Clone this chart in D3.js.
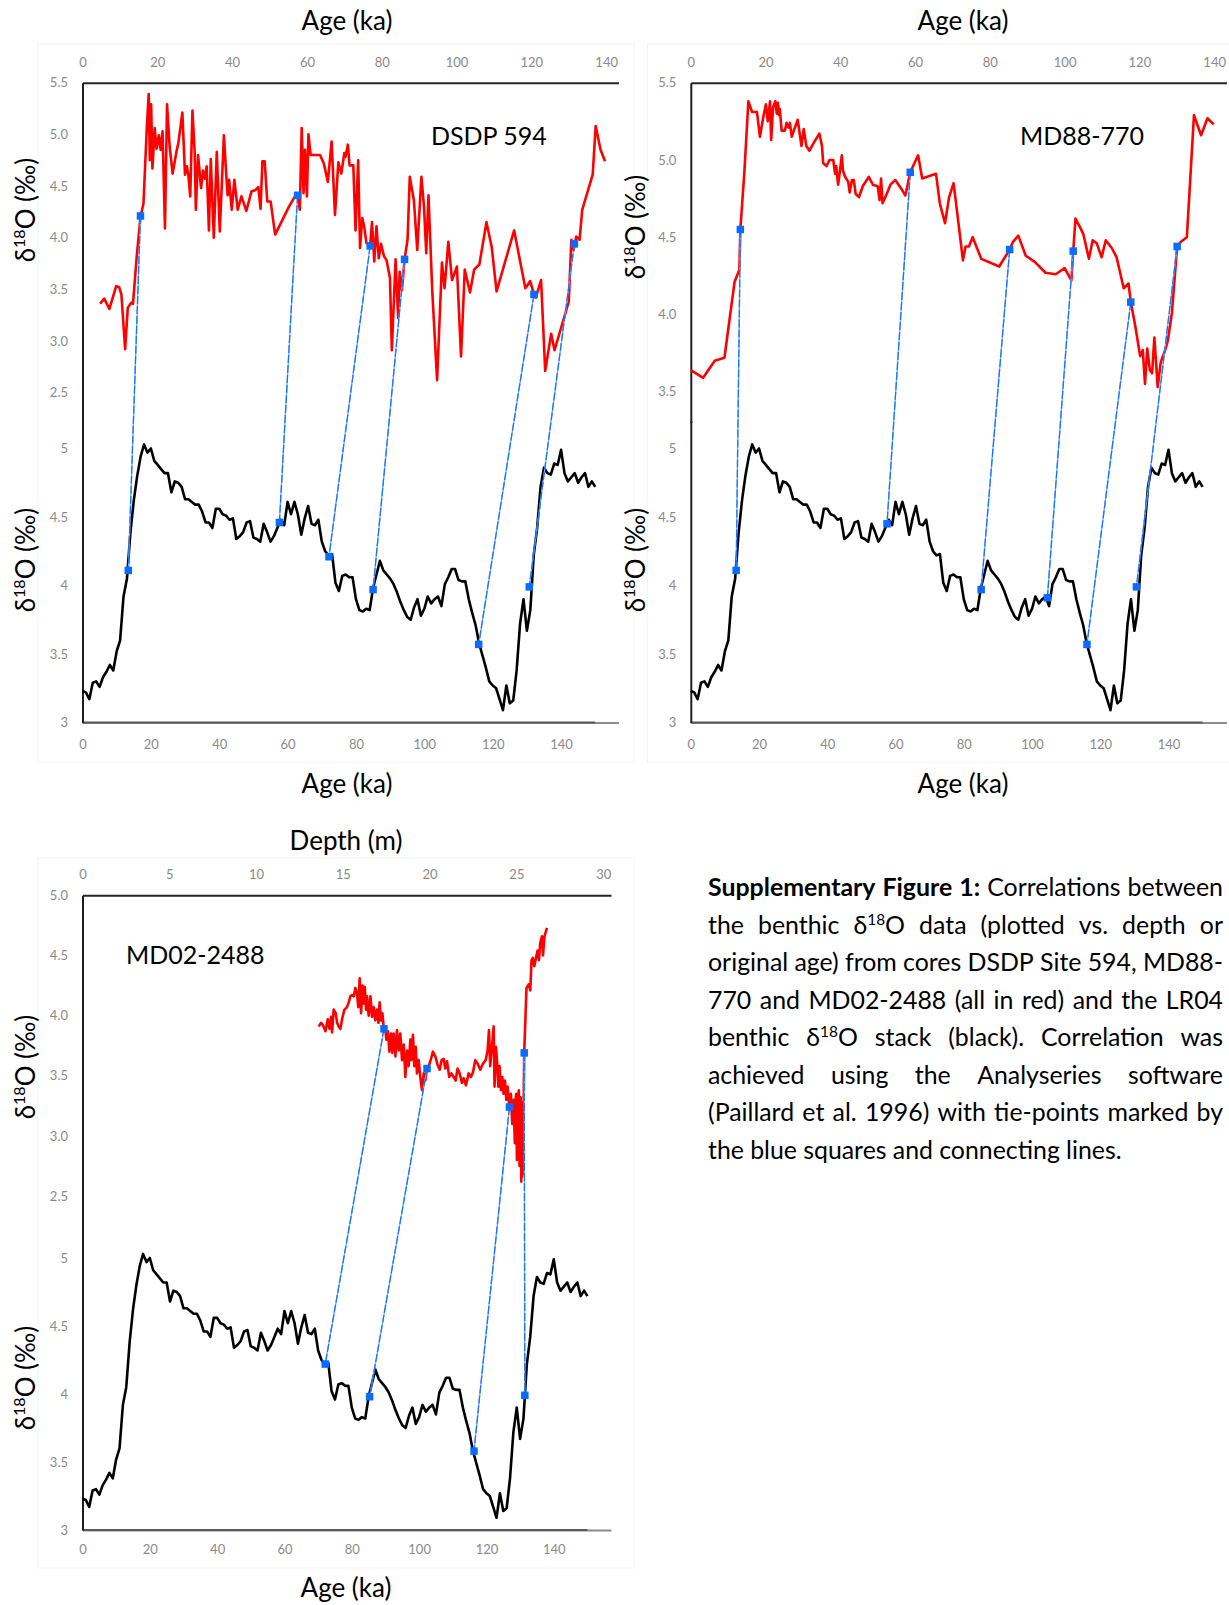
<!DOCTYPE html>
<html><head><meta charset="utf-8">
<script src="https://cdn.jsdelivr.net/npm/d3@7"></script>
<style>
body{margin:0;background:#fff}
svg{display:block}
text{font-family:Lato,"Open Sans",sans-serif}
</style>
</head><body>
<svg id="c" width="1229" height="1605"></svg>
<script>
// ---------------- DATA ----------------
const AGE_TICKS = [0,20,40,60,80,100,120,140];
const DEPTH_TICKS = [0,5,10,15,20,25,30];
const Y_TICKS_DSDP = [2.5,3.0,3.5,4.0,4.5,5.0,5.5];
const Y_TICKS_MD88 = [3.5,4.0,4.5,5.0,5.5];
const Y_TICKS_MD02 = [2.5,3.0,3.5,4.0,4.5,5.0];
const Y_TICKS_LR04 = [3,3.5,4,4.5,5];
const CORE_NAMES = ["DSDP 594","MD88-770","MD02-2488"];

// LR04 benthic stack [age ka, d18O]
const LR04 = [[0,3.23],[1,3.22],[2,3.17],[3,3.29],[4,3.30],[5,3.26],[6,3.33],[7,3.37],[8,3.42],[9,3.38],
[10,3.52],[11,3.60],[12,3.92],[13,4.05],[14,4.38],[15,4.62],[16,4.80],[17,4.94],[18,5.03],[19,4.97],
[20,5.00],[21,4.91],[22,4.88],[23,4.85],[24,4.82],[25,4.82],[26,4.68],[27,4.76],[28,4.75],[29,4.72],
[30,4.63],[31,4.63],[32,4.61],[33,4.59],[34,4.59],[35,4.54],[36,4.46],[37,4.46],[38,4.42],[39,4.56],
[40,4.56],[41,4.52],[42,4.51],[43,4.48],[44,4.49],[45,4.34],[46,4.36],[47,4.39],[48,4.46],[49,4.47],
[50,4.35],[51,4.34],[52,4.32],[53,4.45],[54,4.39],[55,4.32],[56,4.36],[57,4.42],[58,4.48],[59,4.44],
[60,4.61],[61,4.52],[62,4.61],[63,4.52],[64,4.37],[65,4.49],[66,4.58],[67,4.45],[68,4.44],[69,4.48],
[70,4.32],[71,4.25],[72,4.22],[73,4.23],[74,4.02],[75,3.96],[76,4.07],[77,4.08],[78,4.06],[79,4.06],
[80,3.90],[81,3.82],[82,3.81],[83,3.83],[84,3.82],[85,3.98],[86,4.08],[87,4.18],[88,4.11],[89,4.08],
[90,4.05],[91,4.01],[92,3.95],[93,3.88],[94,3.82],[95,3.77],[96,3.75],[97,3.84],[98,3.90],[99,3.78],
[100,3.83],[101,3.92],[102,3.87],[103,3.90],[104,3.92],[105,3.85],[106,4.01],[107,4.06],[108,4.12],[109,4.12],
[110,4.04],[111,4.03],[112,4.03],[113,3.90],[114,3.80],[115,3.71],[116,3.58],[117,3.49],[118,3.40],[119,3.30],
[120,3.27],[121,3.25],[122,3.17],[123,3.09],[124,3.27],[125,3.14],[126,3.16],[127,3.38],[128,3.72],[129,3.90],
[130,3.67],[131,3.82],[132,4.22],[133,4.42],[134,4.72],[135,4.86],[136,4.82],[137,4.81],[138,4.89],[139,4.88],
[140,4.99],[141,4.82],[142,4.76],[143,4.79],[144,4.82],[145,4.75],[146,4.79],[147,4.82],[148,4.72],[149,4.76],[150,4.72]];

// DSDP 594 [original age ka, d18O]
const DSDP594 = [[4.7,3.36],[5.8,3.41],[7.2,3.31],[9.0,3.53],[9.8,3.52],[10.4,3.45],[11.4,2.92],[12.1,3.32],[13.0,3.37],[13.5,3.36],
[14.5,3.82],[15.5,4.20],[16.3,4.33],[17.2,5.07],[17.7,5.39],[18.0,4.75],[18.35,5.29],[18.7,4.67],[19.3,5.06],[19.8,4.86],
[20.4,4.99],[20.9,4.85],[21.4,5.03],[22.05,4.09],[22.6,5.29],[23.3,4.88],[24.1,4.62],[25.1,4.83],[25.6,4.91],[26.7,5.21],
[27.4,4.61],[27.9,4.69],[28.3,4.61],[28.8,4.40],[29.4,5.23],[30.0,4.82],[30.3,4.27],[30.9,4.80],[31.7,4.48],[32.2,4.65],
[32.7,4.57],[33.2,4.69],[33.8,4.07],[34.3,4.76],[35.1,4.00],[35.9,4.83],[36.7,4.06],[37.3,4.56],[37.8,4.99],[38.3,4.69],
[38.8,4.41],[39.2,4.56],[39.9,4.27],[40.6,4.56],[41.5,4.27],[42.5,4.40],[43.8,4.26],[45.2,4.45],[46.2,4.46],[47.0,4.49],
[47.6,4.28],[48.1,4.74],[48.7,4.74],[49.4,4.35],[50.3,4.35],[51.5,4.03],[55.2,4.30],[56.8,4.40],[57.5,4.41],[58.1,4.27],
[58.6,5.06],[59.1,4.43],[59.5,4.85],[60.0,4.40],[60.4,5.00],[61.0,4.80],[62.1,4.80],[63.5,4.80],[64.5,4.72],[65.6,4.54],
[66.6,4.93],[67.5,4.22],[68.4,4.73],[69.2,4.62],[70.0,4.82],[70.3,4.78],[70.95,4.90],[71.4,4.70],[72.4,4.70],[73.0,4.07],
[73.7,4.75],[74.2,3.90],[74.8,4.19],[75.3,4.11],[75.9,3.95],[76.9,3.92],[77.4,4.15],[78.0,3.77],[78.6,4.11],[79.2,3.80],
[79.8,3.94],[80.6,3.82],[81.3,3.78],[82.2,3.61],[82.7,2.91],[83.3,3.43],[83.7,3.79],[84.4,3.22],[84.8,3.67],[85.4,3.49],
[86.1,3.79],[86.9,3.98],[87.5,4.59],[88.6,4.36],[89.5,3.88],[90.6,4.59],[91.3,4.30],[91.9,3.85],[92.5,4.41],[93.5,3.49],
[94.8,2.62],[96.1,3.76],[96.8,3.51],[97.8,3.96],[98.8,3.59],[100.1,3.72],[101.2,2.85],[102.2,3.69],[103.6,3.47],[104.7,3.69],
[106.1,3.74],[108.0,4.15],[109.4,3.91],[110.7,3.48],[115.4,4.07],[118.4,3.51],[119.7,3.58],[120.7,3.45],[121.2,3.42],[122.6,3.59],
[123.7,2.71],[125.3,3.07],[126.2,2.91],[130.0,3.38],[130.7,3.98],[131.3,3.88],[132.0,4.01],[132.9,3.98],[133.6,4.27],[136.4,4.61],
[137.2,5.08],[138.5,4.85],[139.7,4.74]];

// MD88-770 [original age ka, d18O]
const MD88_770 = [[0.0,3.64],[3.3,3.59],[6.4,3.70],[9.0,3.72],[11.7,4.21],[13.0,4.29],[13.25,4.55],[14.3,4.91],[15.4,5.38],[16.4,5.31],
[17.7,5.31],[18.5,5.15],[19.4,5.28],[20.1,5.36],[20.6,5.25],[21.2,5.38],[21.5,5.13],[22.0,5.34],[22.6,5.38],[23.0,5.30],
[23.3,5.37],[23.6,5.29],[23.8,5.33],[24.3,5.19],[25.2,5.19],[25.6,5.24],[26.1,5.21],[26.5,5.24],[27.0,5.15],[27.7,5.20],
[28.6,5.26],[29.6,5.09],[30.2,5.20],[30.9,5.09],[31.75,5.06],[33.1,5.12],[34.4,5.17],[35.1,5.09],[35.4,4.98],[36.3,4.96],
[37.1,5.00],[38.1,5.00],[38.6,4.91],[38.9,4.96],[39.4,4.84],[39.9,4.93],[40.4,5.03],[40.7,4.93],[41.3,4.89],[42.1,4.86],
[42.5,4.79],[43.1,4.87],[43.6,4.87],[44.1,4.78],[45.0,4.76],[46.0,4.83],[47.6,4.89],[48.7,4.84],[50.0,4.83],[50.5,4.74],
[50.9,4.88],[51.3,4.72],[52.4,4.78],[53.4,4.84],[54.7,4.87],[56.4,4.81],[57.4,4.77],[58.7,4.92],[60.8,5.03],[61.9,4.88],
[65.6,4.91],[66.6,4.72],[68.0,4.59],[69.1,4.76],[70.3,4.85],[72.8,4.35],[73.5,4.44],[74.4,4.44],[75.4,4.50],[77.7,4.36],
[82.5,4.31],[85.3,4.42],[86.2,4.47],[87.6,4.51],[89.6,4.38],[92.0,4.34],[94.9,4.27],[97.6,4.26],[100.0,4.30],[101.8,4.22],
[102.3,4.41],[102.9,4.62],[104.2,4.56],[105.0,4.52],[106.5,4.36],[107.5,4.48],[108.6,4.46],[109.9,4.37],[111.0,4.48],[112.6,4.43],
[113.9,4.37],[115.8,4.17],[117.1,4.20],[117.7,4.08],[119.0,3.91],[120.2,3.73],[120.9,3.77],[121.5,3.55],[122.1,3.78],[122.8,3.64],
[123.4,3.62],[124.0,3.85],[124.9,3.53],[125.7,3.69],[126.9,3.77],[127.6,3.83],[128.7,4.01],[130.1,4.44],[131.1,4.47],[132.7,4.50],
[134.6,5.29],[136.5,5.16],[138.2,5.27],[139.9,5.23]];

// MD02-2488 [depth m, d18O]
const MD02_2488 = [[13.61,3.91],[13.75,3.94],[13.86,3.92],[14.0,3.87],[14.13,3.97],[14.23,3.89],[14.32,3.99],[14.38,3.86],[14.47,4.05],[14.59,4.02],
[14.67,3.94],[14.76,3.91],[14.86,3.89],[14.97,3.98],[15.09,4.05],[15.24,4.07],[15.36,4.12],[15.43,4.16],[15.53,4.17],[15.63,4.16],
[15.72,4.23],[15.82,4.18],[15.89,4.07],[15.97,4.31],[16.05,4.02],[16.13,4.25],[16.2,4.10],[16.26,4.24],[16.34,4.05],[16.39,4.16],
[16.49,4.00],[16.59,4.16],[16.68,3.99],[16.78,4.07],[16.87,3.96],[16.97,4.05],[17.05,3.94],[17.12,4.11],[17.2,3.96],[17.28,4.02],
[17.35,3.91],[17.45,3.88],[17.51,3.80],[17.6,3.87],[17.68,3.70],[17.78,3.85],[17.85,3.69],[17.93,3.85],[18.03,3.66],[18.12,3.88],
[18.22,3.71],[18.31,3.85],[18.41,3.63],[18.51,3.76],[18.6,3.49],[18.7,3.71],[18.79,3.58],[18.89,3.80],[18.95,3.63],[19.04,3.84],
[19.12,3.58],[19.2,3.74],[19.27,3.52],[19.37,3.63],[19.46,3.49],[19.56,3.38],[19.66,3.52],[19.75,3.46],[19.85,3.56],[19.95,3.58],
[20.08,3.64],[20.19,3.70],[20.33,3.66],[20.46,3.59],[20.58,3.55],[20.69,3.63],[20.81,3.64],[20.9,3.56],[21.0,3.62],[21.13,3.49],
[21.25,3.52],[21.38,3.49],[21.5,3.46],[21.61,3.56],[21.73,3.52],[21.86,3.44],[21.96,3.48],[22.09,3.42],[22.25,3.52],[22.38,3.49],
[22.5,3.53],[22.63,3.63],[22.77,3.60],[22.92,3.55],[23.07,3.60],[23.23,3.63],[23.34,3.71],[23.42,3.88],[23.49,3.58],[23.59,3.74],
[23.69,3.91],[23.74,3.41],[23.82,3.74],[23.88,3.63],[23.96,3.41],[24.03,3.58],[24.11,3.38],[24.19,3.49],[24.26,3.35],[24.34,3.46],
[24.42,3.30],[24.49,3.41],[24.59,3.24],[24.68,3.35],[24.76,3.10],[24.84,3.30],[24.91,2.94],[24.95,3.30],[24.99,3.35],[25.03,2.80],
[25.07,2.86],[25.1,3.33],[25.14,3.38],[25.18,2.75],[25.22,2.88],[25.25,3.32],[25.28,2.62],[25.31,3.10],[25.33,2.66],[25.35,3.28],
[25.37,2.68],[25.45,3.69],[25.58,4.23],[25.72,4.26],[25.8,4.21],[25.87,4.46],[25.95,4.48],[26.03,4.41],[26.14,4.49],[26.22,4.54],
[26.3,4.46],[26.37,4.60],[26.47,4.66],[26.53,4.50],[26.62,4.66],[26.7,4.70],[26.76,4.73]];

// tie points [core x, core d18O, LR04 age, LR04 d18O]
const TIES_DSDP594 = [[15.5,4.21,13.4,4.11],[57.5,4.41,57.6,4.46],[76.9,3.92,72.1,4.21],[86.1,3.79,85.0,3.97],[120.7,3.45,115.9,3.57],[131.5,3.94,130.7,3.99]];
const TIES_MD88_770 = [[13.25,4.55,13.3,4.11],[58.7,4.92,57.5,4.45],[85.3,4.42,85.1,3.97],[102.3,4.41,104.5,3.91],[117.7,4.08,116.1,3.57],[130.1,4.44,130.6,3.99]];
const TIES_MD02_2488 = [[17.37,3.89,72.1,4.22],[19.85,3.56,85.3,3.98],[24.6,3.24,116.3,3.58],[25.45,3.69,131.4,3.99]];

const CAPTION_LINES = [
 "Supplementary Figure 1: Correlations between",
 "the benthic δ18O data (plotted vs. depth or",
 "original age) from cores DSDP Site 594, MD88-",
 "770 and MD02-2488 (all in red) and the LR04",
 "benthic δ18O stack (black). Correlation was",
 "achieved using the Analyseries software",
 "(Paillard et al. 1996) with tie-points marked by",
 "the blue squares and connecting lines."
];

// ---------------- LAYOUT ----------------
const svg = d3.select("#c");
const RED = "#ff0000", BLUE = "#0a6cff", TICKC = "#8a8a8a";

const panels = [
 {name:CORE_NAMES[0], red:DSDP594, ties:TIES_DSDP594, left:82.5, right:618.5,
  box:[38,44,634,762],
  topXLabel:"Age (ka)", topXDomain:[0,143.3], topXTicks:AGE_TICKS, topFmt:d3.format("d"),
  topAxisY:82.7, topYDomain:[2.2,5.5], topYRange:[82.7+3.3*103.3,82.7], topYTicks:Y_TICKS_DSDP,
  botXMax:156.8, botAxisY:722.5, botYRange:[722.5,722.5-2.2*137],
  titleTopY:30, titleBotY:793, titleX:347,
  yTitleX:35, yTitleTop:210, yTitleBot:560,
  nameX:431, nameY:145, nameSize:25,
  topPad:15.5, botPad:17},
 {name:CORE_NAMES[1], red:MD88_770, ties:TIES_MD88_770, left:690.8, right:1226.5,
  box:[647.5,44,1240,762],
  topXLabel:"Age (ka)", topXDomain:[0,143.3], topXTicks:AGE_TICKS, topFmt:d3.format("d"),
  topAxisY:82.7, topYDomain:[3.3,5.5], topYRange:[82.7+2.2*154.5,82.7], topYTicks:Y_TICKS_MD88,
  botXMax:157, botAxisY:722.5, botYRange:[722.5,722.5-2.2*137],
  titleTopY:30, titleBotY:793, titleX:963,
  yTitleX:644.5, yTitleTop:227, yTitleBot:560,
  nameX:1020, nameY:145, nameSize:25,
  topPad:15.5, botPad:17},
 {name:CORE_NAMES[2], red:MD02_2488, ties:TIES_MD02_2488, left:82.5, right:611,
  box:[38,858,634,1568],
  topXLabel:"Depth (m)", topXDomain:[0,30.45], topXTicks:DEPTH_TICKS, topFmt:d3.format("d"),
  topAxisY:895.3, topYDomain:[2.2,5.0], topYRange:[895.3+2.8*120.3,895.3], topYTicks:Y_TICKS_MD02,
  botXMax:157, botAxisY:1530, botYRange:[1530,1530-2.2*136],
  titleTopY:850, titleBotY:1597, titleX:346,
  yTitleX:35, yTitleTop:1067, yTitleBot:1378,
  nameX:126, nameY:964, nameSize:25,
  topPad:16.5, botPad:14.5}
];

function styleAxis(g, lineColor){
  g.select(".domain").attr("stroke", lineColor).attr("stroke-width", 2);
  g.selectAll(".tick line").remove();
  g.selectAll(".tick text").attr("fill", TICKC).attr("font-size", 13).attr("font-family","Lato, sans-serif");
}

function yTitle(x, y){
  const t = svg.append("text").attr("transform", `translate(${x},${y}) rotate(-90)`)
    .attr("text-anchor","middle").attr("font-size",26).attr("fill","#000");
  t.append("tspan").text("δ");
  t.append("tspan").attr("font-size",16).attr("dy",-10).text("18");
  t.append("tspan").attr("dy",10).text("O (‰)");
}

panels.forEach(p => {
  // faint chart-area border
  svg.append("rect").attr("x",p.box[0]).attr("y",p.box[1]).attr("width",p.box[2]-p.box[0]).attr("height",p.box[3]-p.box[1])
    .attr("fill","none").attr("stroke","#f4f4f4").attr("stroke-width",1);

  const xt = d3.scaleLinear().domain(p.topXDomain).range([p.left,p.right]);
  const yt = d3.scaleLinear().domain(p.topYDomain).range(p.topYRange);
  const xb = d3.scaleLinear().domain([0,p.botXMax]).range([p.left,p.right]);
  const yb = d3.scaleLinear().domain([3,5.2]).range(p.botYRange);

  // bottom x axis (LR04 age)
  const gbx = svg.append("g").attr("transform",`translate(0,${p.botAxisY})`)
    .call(d3.axisBottom(xb).tickValues(AGE_TICKS).tickSize(0).tickPadding(p.botPad).tickFormat(d3.format("d")));
  styleAxis(gbx, "#8c8c8c");
  svg.append("line").attr("x1",xb(0)).attr("x2",xb(150)).attr("y1",p.botAxisY).attr("y2",p.botAxisY)
    .attr("stroke","#5a5a5a").attr("stroke-width",2);

  // left axes
  const gty = svg.append("g").attr("transform",`translate(${p.left},0)`)
    .call(d3.axisLeft(yt).tickValues(p.topYTicks).tickSize(0).tickSizeOuter(0).tickPadding(14.5).tickFormat(d3.format(".1f")));
  styleAxis(gty, "#1e1e1e");
  const gby = svg.append("g").attr("transform",`translate(${p.left},0)`)
    .call(d3.axisLeft(yb).tickValues(Y_TICKS_LR04).tickSize(0).tickSizeOuter(0).tickPadding(14.5).tickFormat(d3.format("")));
  styleAxis(gby, "#1e1e1e");

  // top x axis
  const gtx = svg.append("g").attr("transform",`translate(0,${p.topAxisY})`)
    .call(d3.axisTop(xt).tickValues(p.topXTicks).tickSize(0).tickSizeOuter(0).tickPadding(p.topPad).tickFormat(p.topFmt));
  styleAxis(gtx, "#262626");

  // LR04 black curve
  svg.append("path").datum(LR04).attr("fill","none").attr("stroke","#000").attr("stroke-width",2.6)
    .attr("stroke-linejoin","round")
    .attr("d", d3.line().x(d=>xb(d[0])).y(d=>yb(d[1])));

  // core red curve
  svg.append("path").datum(p.red).attr("fill","none").attr("stroke",RED).attr("stroke-width",2.6)
    .attr("stroke-linejoin","round")
    .attr("d", d3.line().x(d=>xt(d[0])).y(d=>yt(d[1])));

  // tie lines (light solid under, dashed darker on top)
  const tl = svg.append("g");
  tl.selectAll("line.u").data(p.ties).join("line").attr("class","u")
    .attr("x1",d=>xt(d[0])).attr("y1",d=>yt(d[1])).attr("x2",d=>xb(d[2])).attr("y2",d=>yb(d[3]))
    .attr("stroke","#7ab3ff").attr("stroke-width",1.3);
  tl.selectAll("line.o").data(p.ties).join("line").attr("class","o")
    .attr("x1",d=>xt(d[0])).attr("y1",d=>yt(d[1])).attr("x2",d=>xb(d[2])).attr("y2",d=>yb(d[3]))
    .attr("stroke","#1a73ff").attr("stroke-width",1.3).attr("stroke-dasharray","8 2");
  const sq = 7.5;
  svg.append("g").selectAll("rect").data(p.ties).join("rect")
    .attr("x",d=>xt(d[0])-sq/2).attr("y",d=>yt(d[1])-sq/2).attr("width",sq).attr("height",sq).attr("fill",BLUE);
  svg.append("g").selectAll("rect").data(p.ties).join("rect")
    .attr("x",d=>xb(d[2])-sq/2).attr("y",d=>yb(d[3])-sq/2).attr("width",sq).attr("height",sq).attr("fill",BLUE);

  // titles
  svg.append("text").attr("x",p.titleX).attr("y",p.titleTopY).attr("text-anchor","middle")
    .attr("font-size",26).attr("fill","#000").text(p.topXLabel);
  svg.append("text").attr("x",p.titleX).attr("y",p.titleBotY).attr("text-anchor","middle")
    .attr("font-size",26).attr("fill","#000").text("Age (ka)");
  yTitle(p.yTitleX, p.yTitleTop);
  yTitle(p.yTitleX, p.yTitleBot);

  svg.append("text").attr("x",p.nameX).attr("y",p.nameY).attr("font-size",p.nameSize).attr("fill","#000").text(p.name);
});

// ---------------- CAPTION (justified) ----------------
const capX = 708, capW = 515, capY0 = 896, capLH = 37.57;
const capG = svg.append("g");
const probe = capG.append("text").attr("font-size",22).text(CAPTION_LINES[CAPTION_LINES.length-1]);
const fs = 22 * 414.6 / probe.node().getComputedTextLength();
probe.remove();

function addWord(g, word, bold){
  const t = g.append("text").attr("font-size",fs).attr("fill","#000").attr("font-weight", bold?700:400);
  if (word.startsWith("δ18O")) {
    t.append("tspan").text("δ");
    t.append("tspan").attr("font-size",fs*0.62).attr("dy",-fs*0.36).text("18");
    t.append("tspan").attr("dy",fs*0.36).text("O"+word.slice(4));
  } else t.text(word);
  return t;
}
CAPTION_LINES.forEach((line,i) => {
  const y = capY0 + i*capLH;
  const words = line.split(" ");
  const nodes = words.map((w,j) => addWord(capG, w, i===0 && j<3));
  const widths = nodes.map(n => n.node().getComputedTextLength());
  const total = d3.sum(widths);
  const last = i === CAPTION_LINES.length-1;
  const gap = last ? fs*0.25 : (capW - total)/(words.length-1);
  let x = capX;
  nodes.forEach((n,j) => { n.attr("x",x).attr("y",y); x += widths[j] + gap; });
});
</script>
</body></html>
